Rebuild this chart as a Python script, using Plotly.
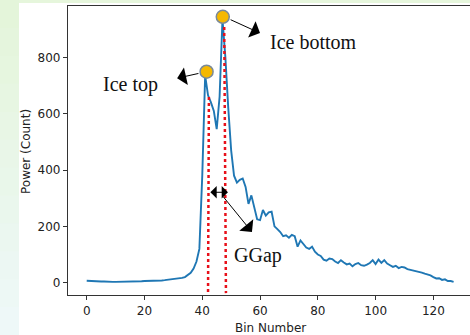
import plotly.graph_objects as go

# ---------------- data ----------------
bins = list(range(128))
power = [7, 6, 5, 5, 4, 4, 4, 3, 3, 3, 3, 3, 4, 4, 4, 4, 5, 5, 5, 5,
         6, 6, 6, 7, 7, 8, 8, 9, 10, 11, 12, 13, 15, 17, 20, 26, 35, 50, 75, 120,
         380, 735, 665, 640, 610, 545, 660, 935, 800, 620, 470, 380, 355, 365, 370, 340, 280, 310, 270, 225,
         222, 258, 238, 250, 252, 200, 190, 180, 165, 168, 160, 170, 165, 128, 150, 138, 125, 120, 128, 110,
         100, 95, 82, 78, 86, 84, 75, 70, 80, 72, 65, 68, 58, 66, 70, 62, 60, 64, 70, 80,
         66, 82, 70, 80, 68, 62, 56, 60, 52, 56, 54, 48, 46, 44, 40, 38, 36, 32, 30, 26,
         20, 15, 16, 10, 12, 6, 6, 3]

peak_x = [41.5, 47.1]
peak_y = [749, 944]
peak_labels = ["Ice top", "Ice bottom"]

gap_left_x = [42.3, 42.0]
gap_left_y = [659, -37]
gap_right_x = [47.6, 48.2]
gap_right_y = [908, -37]

xticks = [0, 20, 40, 60, 80, 100, 120]
yticks = [0, 200, 400, 600, 800]

# ---------------- layout geometry ----------------
W, H = 470, 335
L, R, T, B = 68, 0, 6, 40
pw, ph = W - L - R, H - T - B


def px2paper(px, py):
    return (px - L) / pw, (H - B - py) / ph


fig = go.Figure()

# background (green-ish slide background with white card)
shapes = []
nb = 12
c0 = (228, 245, 218)
c1 = (238, 248, 248)
for i in range(nb):
    f = i / (nb - 1)
    col = tuple(int(round(c0[k] + (c1[k] - c0[k]) * f)) for k in range(3))
    x0, y0 = px2paper(0, H * i / nb)
    x1, y1 = px2paper(19, H * (i + 1) / nb + 1)
    shapes.append(dict(type="rect", xref="paper", yref="paper", x0=x0, x1=x1, y0=y0, y1=y1,
                       fillcolor="rgb(%d,%d,%d)" % col, line=dict(width=0), layer="below"))
x0, y0 = px2paper(19, 0)
x1, y1 = px2paper(W, 3)
shapes.append(dict(type="rect", xref="paper", yref="paper", x0=x0, x1=x1, y0=y0, y1=y1,
                   fillcolor="#e6f6dc", line=dict(width=0), layer="below"))

fig.add_trace(go.Scatter(x=bins, y=power, mode="lines",
                         line=dict(color="#1f77b4", width=1.9), showlegend=False))

fig.add_trace(go.Scatter(x=gap_left_x, y=gap_left_y, mode="lines",
                         line=dict(color="#e8101a", width=2.5, dash="dot"), showlegend=False))
fig.add_trace(go.Scatter(x=gap_right_x, y=gap_right_y, mode="lines",
                         line=dict(color="#e8101a", width=2.5, dash="dot"), showlegend=False))

fig.add_trace(go.Scatter(x=peak_x, y=peak_y, mode="markers",
                         marker=dict(color="#f5b800", size=13, line=dict(color="#7a8a99", width=1.5)),
                         showlegend=False, cliponaxis=False))

annotations = []
arrow_common = dict(xref="x", yref="y", axref="x", ayref="y", text="", showarrow=True,
                    arrowhead=1, arrowwidth=1, arrowcolor="black", standoff=0, startstandoff=0)
# Ice top arrow
annotations.append(dict(x=31.3, y=726, ax=39.2, ay=744, arrowsize=3, **arrow_common))
# Ice bottom arrow
annotations.append(dict(x=60.0, y=886, ax=49.3, ay=936, arrowsize=3, **arrow_common))
# GGap double arrow
annotations.append(dict(x=48.9, y=321, ax=42.3, ay=321, arrowside="end+start", arrowsize=2.1,
                        **arrow_common))
# GGap pointer
annotations.append(dict(x=57.2, y=180, ax=46.8, ay=311, arrowsize=3, **arrow_common))

serif = dict(family="Liberation Serif, Times New Roman, serif", size=20, color="#111")
annotations.append(dict(x=62.8, y=853, xref="x", yref="y", text="Ice bottom", showarrow=False,
                        xanchor="left", yanchor="middle", font=serif))
annotations.append(dict(x=5.0, y=705, xref="x", yref="y", text="Ice top", showarrow=False,
                        xanchor="left", yanchor="middle", font=serif))
annotations.append(dict(x=50.3, y=98, xref="x", yref="y", text="GGap", showarrow=False,
                        xanchor="left", yanchor="middle", font=serif))

sans = dict(family="DejaVu Sans", size=12, color="#222")
ax_, ay_ = px2paper(26, 152)
annotations.append(dict(x=ax_, y=ay_, xref="paper", yref="paper", text="Power (Count)", textangle=-90,
                        showarrow=False, xanchor="center", yanchor="middle", font=sans))
bx, by = px2paper(270, 328)
annotations.append(dict(x=bx, y=by, xref="paper", yref="paper", text="Bin Number",
                        showarrow=False, xanchor="center", yanchor="middle", font=sans))

x_left = (L - 86.7) / 2.889
x_right = (W - R - 86.7) / 2.889
y_bot = -(H - B - 282.7) / 0.2817
y_top = (282.7 - T) / 0.2817

fig.update_layout(
    width=W, height=H,
    margin=dict(l=L, r=R, t=T, b=B),
    paper_bgcolor="white", plot_bgcolor="rgba(0,0,0,0)",
    shapes=shapes, annotations=annotations,
    xaxis=dict(range=[x_left, x_right], tickvals=xticks, ticktext=[str(v) for v in xticks],
               showgrid=False, zeroline=False, showline=True, mirror=True, linecolor="#333", linewidth=1.3,
               ticks="outside", ticklen=4, tickcolor="#333", tickfont=sans),
    yaxis=dict(range=[y_bot, y_top], tickvals=yticks, ticktext=[str(v) for v in yticks],
               showgrid=False, zeroline=False, showline=True, linecolor="#333", linewidth=1.3,
               ticks="outside", ticklen=4, tickcolor="#333", tickfont=sans),
)

fig.write_html("out.html")
